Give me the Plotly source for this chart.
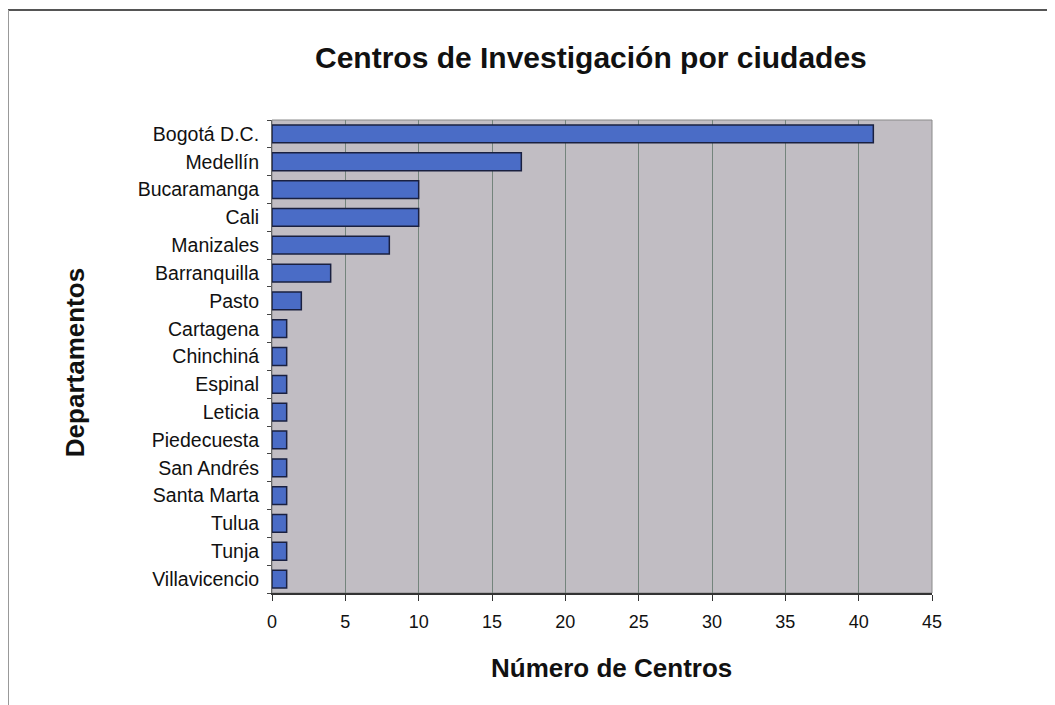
import plotly.graph_objects as go

ciudades = ["Bogotá D.C.", "Medellín", "Bucaramanga", "Cali", "Manizales",
            "Barranquilla", "Pasto", "Cartagena", "Chinchiná", "Espinal",
            "Leticia", "Piedecuesta", "San Andrés", "Santa Marta", "Tulua",
            "Tunja", "Villavicencio"]
centros = [41, 17, 10, 10, 8, 4, 2, 1, 1, 1, 1, 1, 1, 1, 1, 1, 1]
x_ticks = [0, 5, 10, 15, 20, 25, 30, 35, 40, 45]

fig = go.Figure()
fig.add_trace(go.Bar(
    y=ciudades, x=centros, orientation="h",
    marker=dict(color="#4a6cc6", line=dict(color="#1a2040", width=1.5)),
))

font_family = "Liberation Sans, Arial, sans-serif"
fig.update_layout(
    width=1055, height=705,
    margin=dict(l=264, r=131, t=112, b=120),
    paper_bgcolor="white",
    plot_bgcolor="#c1bdc3",
    showlegend=False,
    bargap=0.36,
    font=dict(family=font_family, color="#111111", size=18),
    xaxis=dict(range=[0, 45], tickvals=x_ticks, ticks="outside", ticklen=6,
               tickcolor="#333", showline=True, linecolor="#333", linewidth=2,
               showgrid=True, gridcolor="#74847c", gridwidth=1,
               zeroline=False, tickfont=dict(size=18), ticklabelstandoff=5),
    yaxis=dict(categoryorder="array", categoryarray=ciudades[::-1],
               range=[-0.5, len(ciudades) - 0.5],
               ticks="outside", ticklen=4, tickcolor="#444", tickson="boundaries",
               showline=True, linecolor="#666", linewidth=1,
               showgrid=False, tickfont=dict(size=19.5), ticklabelstandoff=8),
)

# plot area border
fig.add_shape(type="rect", xref="paper", yref="paper", x0=0, x1=1, y0=0, y1=1,
              line=dict(color="#8a8a8a", width=1), layer="below")

# titles
fig.add_annotation(text="<b>Centros de Investigación por ciudades</b>",
                   xref="paper", yref="paper", x=0.483, y=1.133,
                   xanchor="center", yanchor="middle", showarrow=False,
                   font=dict(size=30, family=font_family, color="#111111"))
fig.add_annotation(text="<b>Número de Centros</b>",
                   xref="paper", yref="paper", x=0.514, y=-0.159,
                   xanchor="center", yanchor="middle", showarrow=False,
                   font=dict(size=26, family=font_family, color="#111111"))
fig.add_annotation(text="<b>Departamentos</b>", textangle=-90,
                   xref="paper", yref="paper", x=-0.2985, y=0.488,
                   xanchor="center", yanchor="middle", showarrow=False,
                   font=dict(size=26, family=font_family, color="#111111"))

# outer frame lines (top and left)
fig.add_shape(type="line", xref="paper", yref="paper",
              x0=-0.4, x1=1.2, y0=1.2326, y1=1.2326,
              line=dict(color="#555", width=2))
fig.add_shape(type="line", xref="paper", yref="paper",
              x0=-0.4, x1=-0.4, y0=1.2326, y1=-0.26,
              line=dict(color="#999", width=2))

fig.write_html("out.html")
